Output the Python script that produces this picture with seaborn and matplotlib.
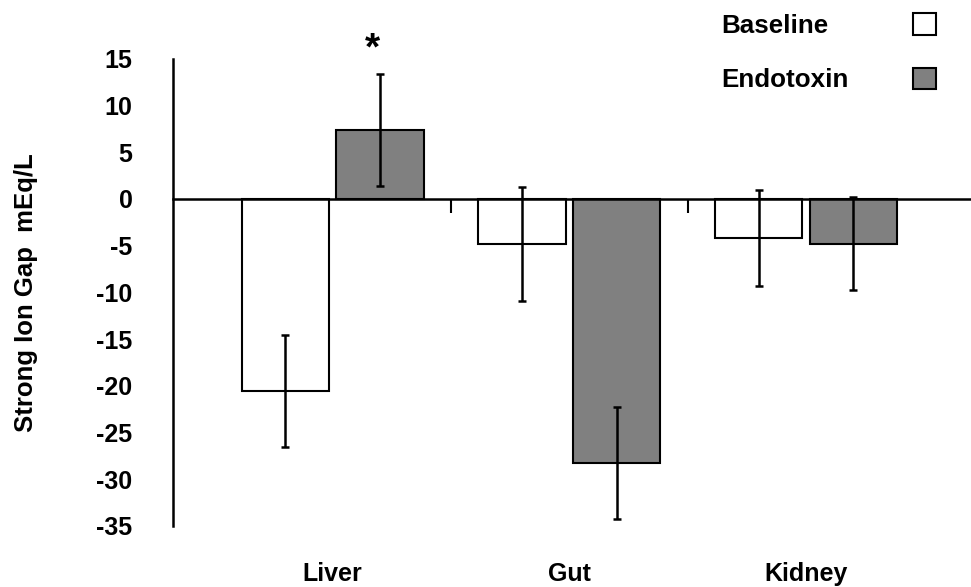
import pandas as pd
import matplotlib.pyplot as plt
import seaborn as sns

# values
organs = ["Liver", "Gut", "Kidney"]
conditions = ["Baseline", "Endotoxin"]
baseline_mean = [-20.6, -4.8, -4.2]
endotoxin_mean = [7.4, -28.3, -4.8]
baseline_se = [6.0, 6.1, 5.1]
endotoxin_se = [6.0, 6.0, 5.0]
yticks = [15, 10, 5, 0, -5, -10, -15, -20, -25, -30, -35]

df = pd.DataFrame({
    "Organ": organs * 2,
    "Condition": [conditions[0]] * len(organs) + [conditions[1]] * len(organs),
    "SIG": baseline_mean + endotoxin_mean,
})

sns.set_theme(style="white")
plt.rcParams["font.family"] = ["Liberation Sans", "DejaVu Sans"]
plt.rcParams["font.weight"] = "bold"
plt.rcParams["axes.labelweight"] = "bold"
plt.rcParams["axes.unicode_minus"] = False
for key in ["text.color", "axes.labelcolor", "xtick.color", "ytick.color"]:
    plt.rcParams[key] = "black"

fig = plt.figure(figsize=(9.71, 5.87), dpi=100)
ax = fig.add_axes([0.178, 0.104, 0.822, 0.796])

sns.barplot(data=df, x="Organ", y="SIG", hue="Condition", order=organs, hue_order=conditions,
            palette=["white", "#808080"], edgecolor="black", linewidth=1.5, gap=0.08,
            errorbar=None, saturation=1, ax=ax)

# error bars on top of the bars
for cont, means, ses in zip(ax.containers, [baseline_mean, endotoxin_mean], [baseline_se, endotoxin_se]):
    xs = [b.get_x() + b.get_width() / 2 for b in cont]
    ax.errorbar(xs, means, yerr=ses, fmt="none", ecolor="black", elinewidth=1.8, capsize=3, capthick=1.8)

# significance marker over the liver endotoxin bar
star_bar = ax.containers[1][0]
ax.text(star_bar.get_x() + star_bar.get_width() / 2 - 0.03, 14.9, "*", ha="center", va="baseline",
        fontsize=28, fontweight="bold", clip_on=False)

ax.set_ylim(-35, 15)
ax.set_xlim(-0.675, 2.697)
ax.set_yticks(yticks)
ax.tick_params(axis="y", length=0, pad=29, labelsize=18)
ax.set_ylabel("Strong Ion Gap  mEq/L", fontsize=18.5, labelpad=42)
ax.set_xlabel("")

# zero line with separators between groups
ax.spines["bottom"].set_position(("data", 0))
ax.set_xticks([0.5, 1.5])
ax.set_xticklabels([])
ax.tick_params(axis="x", bottom=True, length=10, width=1.5, direction="out", color="black")
for side in ["left", "bottom"]:
    ax.spines[side].set_linewidth(1.8)
    ax.spines[side].set_color("black")
ax.spines["top"].set_visible(False)
ax.spines["right"].set_visible(False)

# category names below the plot area
sec = ax.secondary_xaxis("bottom")
sec.set_xticks(range(len(organs)), labels=organs)
sec.tick_params(length=0, pad=26, labelsize=18)
sec.spines["bottom"].set_visible(False)

handles, labels = ax.get_legend_handles_labels()
leg = ax.legend(handles, labels, loc="upper right", bbox_to_anchor=(949 / 971, 1.0),
                bbox_transform=fig.transFigure, frameon=False, markerfirst=False,
                handlelength=0.9, handleheight=0.9, handletextpad=2.45, labelspacing=1.15,
                borderpad=0, fontsize=18.7)

# left-align the legend labels (text sits left of the boxes, like the original)
fig.canvas.draw()
extents = [t.get_window_extent() for t in leg.get_texts()]
left = min(e.x0 for e in extents)
for t, e in zip(leg.get_texts(), extents):
    t.set_x(t.get_position()[0] - (e.x0 - left))

fig.savefig("out.png", dpi=100)
